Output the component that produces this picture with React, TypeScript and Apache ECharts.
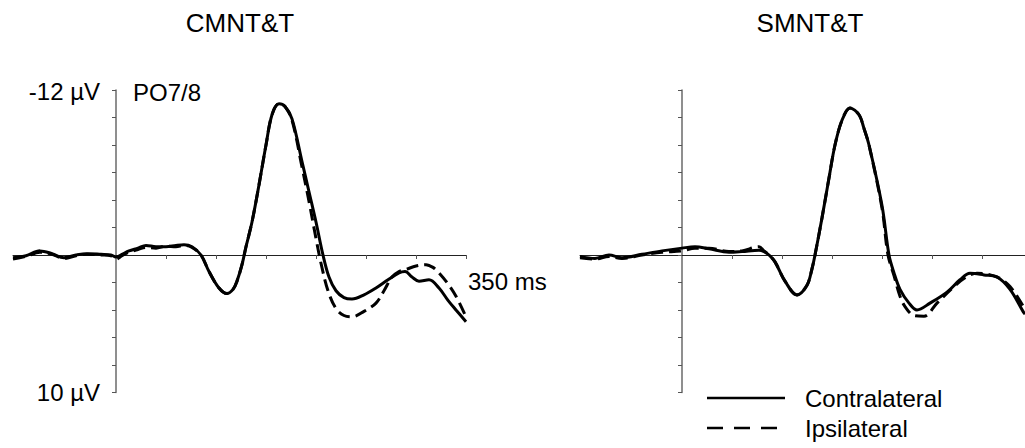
import React, { useEffect, useRef } from "react";
import * as echarts from "echarts";

// time (ms), amplitude (µV) — negative plotted up
const leftContra: [number, number][] = [
  [-103, 0.2], [-90, 0.05], [-76, -0.3], [-64, -0.1], [-52, 0.2], [-40, 0.0], [-29, -0.1], [-15, -0.05],
  [-5, 0.0], [0, 0.15], [6, -0.05], [13, -0.3], [22, -0.5], [30, -0.7], [40, -0.6], [50, -0.6], [60, -0.7],
  [68, -0.75], [76, -0.6], [85, 0.0], [93, 1.2], [103, 2.4], [111, 2.8], [117, 2.5], [121, 1.9], [126, 0.7],
  [130, -0.6], [136, -2.4], [143, -5.1], [150, -8.0], [156, -10.2], [163, -11.0], [169, -10.8], [176, -9.9],
  [186, -6.8], [193, -4.6], [200, -2.4], [207, 0.0], [213, 1.6], [220, 2.6], [228, 3.1], [236, 3.2],
  [248, 2.9], [260, 2.4], [272, 1.8], [283, 1.3], [289, 1.2], [296, 1.6], [303, 1.9], [313, 1.8], [323, 2.4],
  [332, 3.3], [340, 4.0], [350, 4.85],
];
const leftIpsi: [number, number][] = [
  [-103, 0.3], [-90, 0.1], [-76, -0.2], [-64, -0.05], [-52, 0.25], [-40, 0.05], [-29, -0.05], [-15, 0.0],
  [-5, 0.05], [0, 0.3], [6, 0.05], [13, -0.2], [22, -0.4], [30, -0.55], [40, -0.5], [50, -0.65], [60, -0.6],
  [68, -0.7], [76, -0.55], [85, 0.0], [93, 1.2], [103, 2.4], [111, 2.8], [117, 2.5], [121, 1.9], [126, 0.7],
  [130, -0.6], [136, -2.4], [143, -5.1], [150, -8.0], [156, -10.2], [163, -11.0], [169, -10.8], [176, -9.8],
  [186, -6.4], [193, -3.9], [200, -1.2], [205, 0.6], [212, 2.6], [220, 3.9], [228, 4.4], [236, 4.5],
  [248, 4.1], [260, 3.5], [268, 2.6], [276, 1.6], [283, 1.2], [290, 1.05], [300, 0.8], [310, 0.7], [317, 0.9],
  [323, 1.3], [332, 2.1], [340, 3.0], [350, 4.5],
];
const rightContra: [number, number][] = [
  [-102, 0.1], [-87, 0.25], [-73, 0.0], [-60, 0.2], [-40, -0.05], [-20, -0.3], [0, -0.5], [13, -0.6],
  [27, -0.45], [47, -0.2], [60, -0.25], [77, -0.35], [82, -0.25], [87, 0.0], [93, 0.5], [103, 1.9],
  [115, 2.9], [125, 2.2], [130, 1.0], [133, 0.0], [140, -2.7], [147, -5.6], [153, -8.0], [160, -9.8],
  [168, -10.7], [177, -10.2], [182, -9.2], [187, -8.0], [200, -3.6], [207, 0.0], [212, 1.3], [218, 2.5],
  [227, 3.5], [235, 4.0], [248, 3.5], [265, 2.7], [278, 1.8], [288, 1.33], [302, 1.45], [315, 1.6],
  [328, 2.5], [341, 4.1], [343, 4.3],
];
const rightIpsi: [number, number][] = [
  [-102, 0.2], [-87, 0.3], [-73, 0.1], [-60, 0.25], [-40, 0.0], [-20, -0.2], [0, -0.3], [13, -0.5],
  [27, -0.5], [47, -0.25], [60, -0.3], [77, -0.6], [82, -0.3], [87, 0.0], [93, 0.5], [103, 1.9],
  [115, 2.9], [125, 2.2], [130, 1.0], [133, 0.0], [140, -2.7], [147, -5.6], [153, -8.0], [160, -9.8],
  [168, -10.7], [177, -10.2], [182, -9.2], [187, -8.0], [200, -3.4], [206, 0.0], [212, 1.5], [218, 3.0],
  [223, 3.75], [232, 4.4], [242, 4.45], [255, 3.5], [272, 2.3], [282, 1.7], [295, 1.33], [315, 1.6],
  [328, 2.3], [341, 3.7], [343, 4.0],
];

const panelTitles = ["CMNT&T", "SMNT&T"];
const xTicks = [50, 100, 150, 200, 250, 300, 350];
const yLabelValues = [-12, 10];
const legendLabels = ["Contralateral", "Ipsilateral"];
const channelLabel = "PO7/8";
const timeLabel = "350 ms";

const FONT = "'Liberation Sans', Arial, Helvetica, sans-serif";
const LABEL_SIZE = 24;
const TITLE_SIZE = 26;

export default function App() {
  const ref = useRef<HTMLDivElement>(null);
  useEffect(() => {
    document.body.style.margin = "0";
    const chart = echarts.init(ref.current!, null, { renderer: "svg" });
    const mkX = (idx: number, min: number, max: number) => ({
      type: "value",
      gridIndex: idx,
      min,
      max,
      splitLine: { show: false },
      axisLine: { onZero: true, lineStyle: { color: "#222", width: 1 } },
      axisTick: { show: true, length: 4, customValues: xTicks, lineStyle: { color: "#555", width: 1 } },
      axisLabel: { show: false },
    });
    const mkY = (idx: number) => ({
      type: "value",
      gridIndex: idx,
      inverse: true,
      min: -12,
      max: 10,
      interval: 2,
      splitLine: { show: false },
      axisLine: { onZero: true, lineStyle: { color: "#6a6a6a", width: 1.5 } },
      axisTick: { show: true, length: 4, lineStyle: { color: "#555", width: 1 } },
      axisLabel: { show: false },
    });
    const mkSeries = (data: [number, number][], idx: number, dashed: boolean) => ({
      type: "line",
      xAxisIndex: idx,
      yAxisIndex: idx,
      data,
      showSymbol: false,
      smooth: 0.35,
      clip: true,
      lineStyle: { color: "#000", width: 3, type: dashed ? [12, 6] : "solid" },
      z: dashed ? 2 : 3,
    });
    const txt = (text: string, x: number, y: number, size: number, align: string) => ({
      type: "text",
      x,
      y,
      style: { text, fontSize: size, fontFamily: FONT, fill: "#000", align, verticalAlign: "middle" },
    });
    chart.setOption({
      animation: false,
      backgroundColor: "#fff",
      grid: [
        { left: 13, top: 90, width: 453, height: 302.5, containLabel: false, outerBoundsMode: "none" },
        { left: 580, top: 90, width: 445, height: 302.5, containLabel: false, outerBoundsMode: "none" },
      ],
      xAxis: [mkX(0, -103, 350), mkX(1, -102, 343)],
      yAxis: [mkY(0), mkY(1)],
      series: [
        mkSeries(leftIpsi, 0, true),
        mkSeries(leftContra, 0, false),
        mkSeries(rightIpsi, 1, true),
        mkSeries(rightContra, 1, false),
      ],
      graphic: [
        txt(panelTitles[0], 240, 23, TITLE_SIZE, "center"),
        txt(panelTitles[1], 810, 23, TITLE_SIZE, "center"),
        txt(`${yLabelValues[0]} µV`, 100, 91, LABEL_SIZE, "right"),
        txt(`${yLabelValues[1]} µV`, 100, 392, LABEL_SIZE, "right"),
        txt(channelLabel, 133, 92, LABEL_SIZE, "left"),
        txt(timeLabel, 468, 281, LABEL_SIZE, "left"),
        { type: "line", shape: { x1: 707, y1: 398, x2: 785, y2: 398 }, style: { stroke: "#000", lineWidth: 2.5 } },
        { type: "line", shape: { x1: 707, y1: 428, x2: 785, y2: 428 }, style: { stroke: "#000", lineWidth: 2.5, lineDash: [16, 11] } },
        txt(legendLabels[0], 805, 398, LABEL_SIZE, "left"),
        txt(legendLabels[1], 805, 428, LABEL_SIZE, "left"),
      ],
    });
    return () => chart.dispose();
  }, []);
  return <div ref={ref} style={{ width: 1025, height: 448 }} />;
}
